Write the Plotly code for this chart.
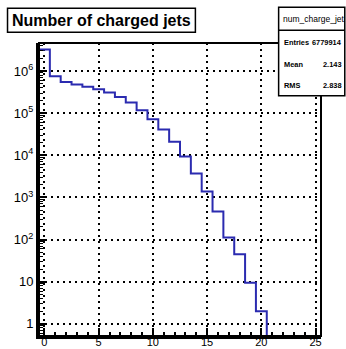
import numpy as np
import plotly.graph_objects as go

# Histogram of the number of charged jets per event (bins of width 1, centred on integers)
bin_centers = list(range(0, 26))
counts = [3.25e6, 7.5e5, 5.5e5, 4.8e5, 4.2e5, 3.7e5, 3.1e5, 2.4e5, 1.8e5, 1.17e5,
          7.2e4, 4.1e4, 2.1e4, 9.3e3, 3.7e3, 1.39e3, 465, 112, 45, 9.5,
          2, 0, 0, 0, 0, 0]

hist_name = "num_charge_jet"
stats_labels = ["Entries", "Mean", "RMS"]
stats_values = ["6779914", "2.143", "2.838"]
title_text = "Number of charged jets"

y_decades = [1, 10, 100, 1e3, 1e4, 1e5, 1e6]
y_ticktext = ["1", "10", "10<sup>2</sup>", "10<sup>3</sup>", "10<sup>4</sup>",
              "10<sup>5</sup>", "10<sup>6</sup>"]
x_ticks = [0, 5, 10, 15, 20, 25]

# Canvas / frame geometry (pixels)
WIDTH, HEIGHT = 346, 349
L, R, T, B = 38.5, 320.7, 42.7, 336.0
PW, PH = R - L, B - T
LOG_MIN, LOG_MAX = -0.287, 6.664


def px(x):
    return (x - L) / PW


def py(y):
    return (B - y) / PH


edges = np.arange(-0.5, 26.0, 1.0)
floor = 10 ** LOG_MIN
vals = [c if c > 0 else floor for c in counts]
xs = [edges[0]] + list(edges[:-1]) + [edges[-1]]
ys = [floor] + vals + [vals[-1]]

fig = go.Figure()
fig.add_trace(go.Scatter(
    x=xs, y=ys, mode="lines",
    line=dict(color="#2b2bb0", width=2, shape="hv"),
    hoverinfo="skip", showlegend=False,
))

minor_y = [k * 10 ** d for d in range(-1, 7) for k in range(2, 10)]

font_main = "Liberation Sans, Arial, Helvetica, sans-serif"

fig.update_layout(
    width=WIDTH, height=HEIGHT,
    margin=dict(l=L, r=WIDTH - R, t=T, b=HEIGHT - B, pad=0),
    paper_bgcolor="white", plot_bgcolor="white",
    font=dict(family=font_main, color="black", size=12),
    xaxis=dict(
        range=[-0.5, 25.5], showline=True, linecolor="black", linewidth=3,
        mirror=False, ticks="inside", ticklen=8, tickwidth=1.5, tickcolor="black",
        tickvals=x_ticks, ticktext=[str(v) for v in x_ticks], automargin=False,
        tickfont=dict(size=11), zeroline=False, ticklabelstandoff=-6,
        showgrid=True, gridcolor="black", gridwidth=1.5, griddash="2px,4px",
        minor=dict(ticks="inside", ticklen=4, tickwidth=1.5, tickcolor="black",
                   dtick=1, showgrid=False),
    ),
    yaxis=dict(
        type="log", range=[LOG_MIN, LOG_MAX], showline=True, linecolor="black",
        linewidth=3, mirror=False, ticks="inside", ticklen=8, tickwidth=1.5,
        tickcolor="black", tickmode="array", tickvals=y_decades, ticktext=y_ticktext,
        tickfont=dict(size=13), zeroline=False, automargin=False,
        showgrid=True, gridcolor="black", gridwidth=1.5, griddash="2px,4px",
        minor=dict(ticks="inside", ticklen=4, tickwidth=1.2, tickcolor="black",
                   tickmode="array", tickvals=minor_y, showgrid=False),
    ),
)

shapes = [
    # top and right frame edges
    dict(type="rect", xref="paper", yref="paper", x0=0, x1=1, y0=0, y1=1,
         line=dict(color="black", width=2), fillcolor="rgba(0,0,0,0)", layer="above"),
    # title box
    dict(type="rect", xref="paper", yref="paper", x0=px(7), x1=px(195),
         y0=py(32), y1=py(8), line=dict(color="black", width=1.5),
         fillcolor="white", layer="above"),
    # statistics box
    dict(type="rect", xref="paper", yref="paper", x0=px(278.3), x1=px(344.5),
         y0=py(95.5), y1=py(7), line=dict(color="black", width=1.5),
         fillcolor="white", layer="above"),
    dict(type="line", xref="paper", yref="paper", x0=px(278.3), x1=px(344.5),
         y0=py(30), y1=py(30), line=dict(color="black", width=1.5), layer="above"),
]
fig.update_layout(shapes=shapes)

annotations = [
    dict(text="<b>" + title_text + "</b>", x=px(101), y=py(20.5), xref="paper",
         yref="paper", xanchor="center", yanchor="middle", showarrow=False,
         font=dict(size=16, family=font_main)),
    dict(text=hist_name, x=px(280.5), y=py(19), xref="paper", yref="paper",
         xanchor="left", yanchor="middle", showarrow=False,
         font=dict(size=8.5, family=font_main)),
]
for i, (lab, val) in enumerate(zip(stats_labels, stats_values)):
    yy = py([42, 64, 85][i])
    annotations.append(dict(text="<b>" + lab + "</b>", x=px(281.5), y=yy,
                            xref="paper", yref="paper", xanchor="left",
                            yanchor="middle", showarrow=False,
                            font=dict(size=7.4, family=font_main)))
    annotations.append(dict(text="<b>" + val + "</b>", x=px(343.5), y=yy,
                            xref="paper", yref="paper", xanchor="right",
                            yanchor="middle", showarrow=False,
                            font=dict(size=7.4, family=font_main)))
fig.update_layout(annotations=annotations)

fig.write_html("out.html")
